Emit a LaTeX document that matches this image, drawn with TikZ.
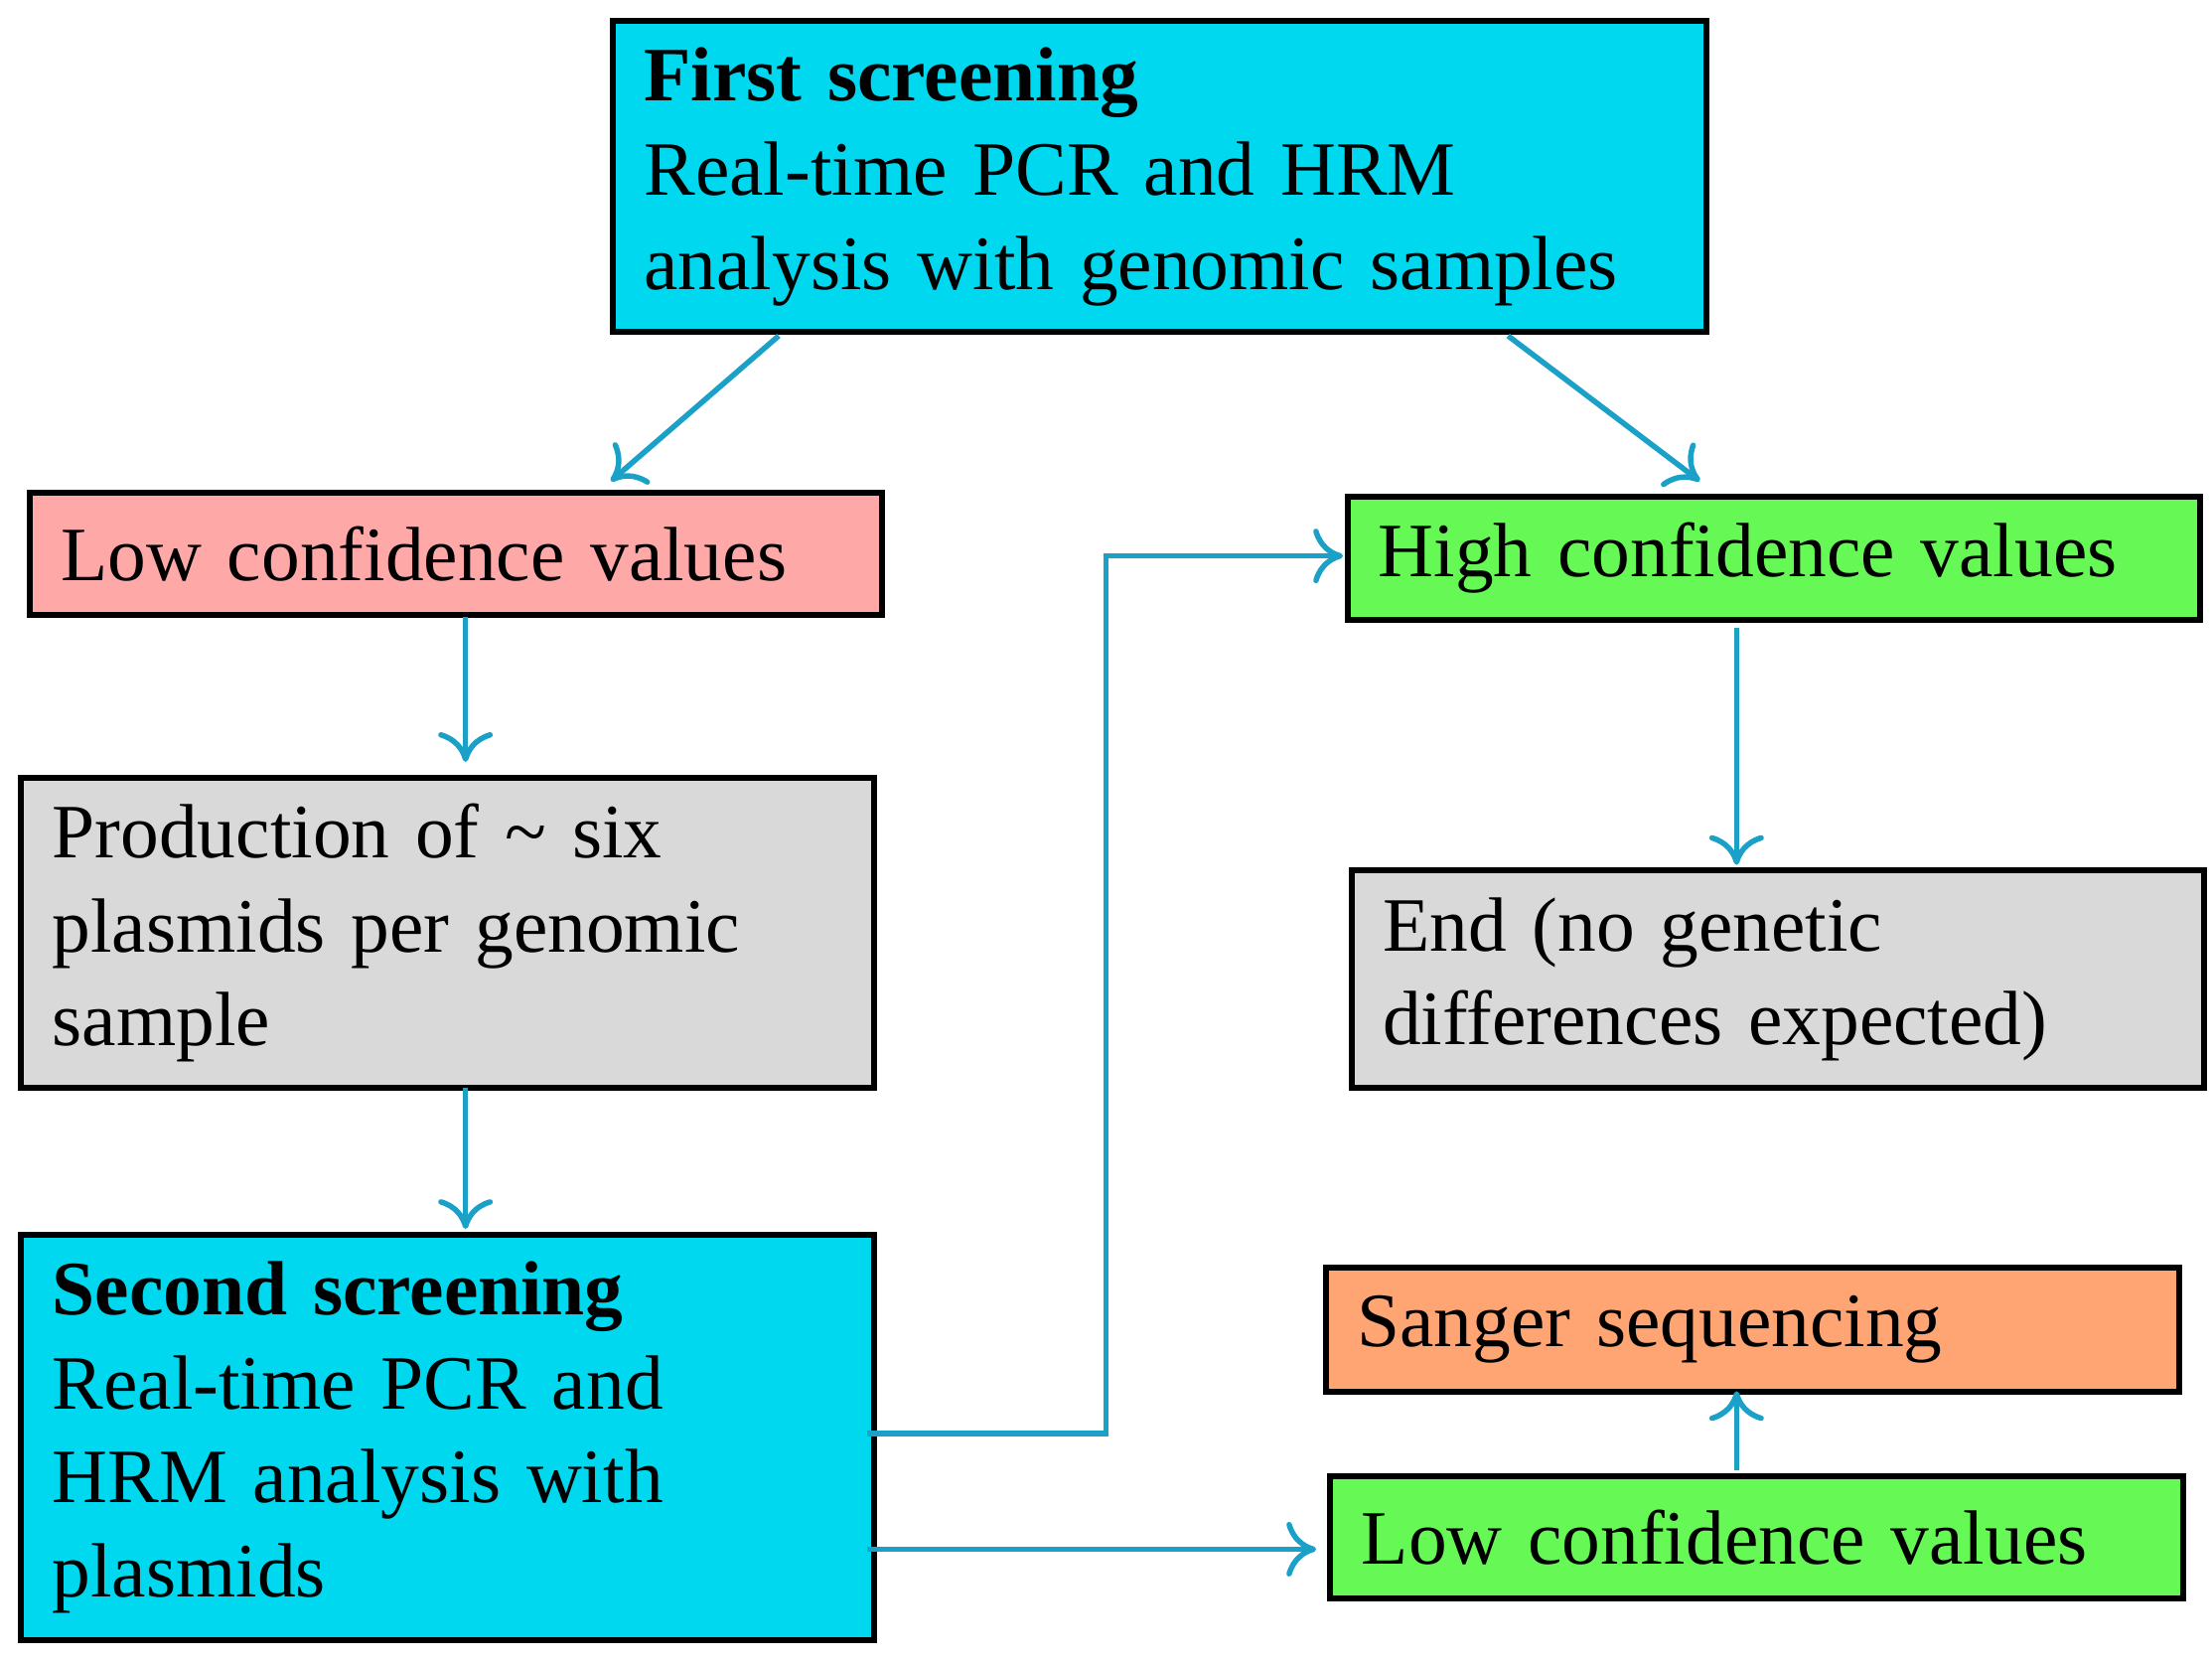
\documentclass[tikz,border=0pt]{standalone}
\usepackage{fontspec}
\setmainfont{Liberation Serif}
\usetikzlibrary{arrows.meta}
\definecolor{cy}{HTML}{00D8F0}
\definecolor{pk}{HTML}{FFA8A8}
\definecolor{gr}{HTML}{66F855}
\definecolor{gy}{HTML}{D9D9D9}
\definecolor{og}{HTML}{FFA573}
\definecolor{ar}{HTML}{1BA1C8}
\begin{document}
\begin{tikzpicture}[x=0.01cm,y=-0.01cm,
 box/.style={draw=black,line width=1.2pt,anchor=north west,align=left,inner xsep=0.22cm,
   font=\fontsize{15.5}{19}\selectfont},
 con/.style={draw=ar,line width=1.1pt,-{To[length=6pt,width=11pt]}}]
\useasboundingbox (0,0) rectangle (1568,1178);
\node[box,fill=cy,minimum width=7.75cm,minimum height=2.2cm,text width=7.3cm] (top) at (432,13)
 {\textbf{First screening}\\Real-time PCR and HRM\\analysis with genomic samples};
\node[box,fill=pk,minimum width=6.03cm,minimum height=0.87cm,text width=5.6cm] (low1) at (19,347) {Low confidence values};
\node[box,fill=gr,minimum width=6.03cm,minimum height=0.87cm,text width=5.6cm] (high) at (953,350) {High confidence values};
\node[box,fill=gy,minimum width=6.02cm,minimum height=2.2cm,text width=5.6cm] (prod) at (13,549) {Production of \textasciitilde{} six\\plasmids per genomic\\sample};
\node[box,fill=gy,minimum width=6.02cm,minimum height=1.54cm,text width=5.6cm] (end) at (956,615) {End (no genetic\\differences expected)};
\node[box,fill=cy,minimum width=6.02cm,minimum height=2.87cm,text width=5.6cm] (second) at (13,873) {\textbf{Second screening}\\Real-time PCR and\\HRM analysis with\\plasmids};
\node[box,fill=og,minimum width=6.02cm,minimum height=0.88cm,text width=5.6cm] (sanger) at (938,896) {Sanger sequencing};
\node[box,fill=gr,minimum width=6.02cm,minimum height=0.87cm,text width=5.6cm] (low2) at (941,1044) {Low confidence values};
\coordinate (a1) at (552,238); \coordinate (a2) at (433,341);
\coordinate (b1) at (1069,238); \coordinate (b2) at (1205,341);
\coordinate (c1) at (330,437); \coordinate (c2) at (330,540);
\coordinate (d1) at (1231,445); \coordinate (d2) at (1231,613);
\coordinate (e1) at (330,771); \coordinate (e2) at (330,871);
\coordinate (f1) at (615,1016); \coordinate (f2) at (952,394);
\coordinate (g1) at (615,1098); \coordinate (g2) at (933,1098);
\coordinate (h1) at (1231,1042); \coordinate (h2) at (1231,986);
\draw[con] (a1) -- (a2);
\draw[con] (b1) -- (b2);
\draw[con] (c1) -- (c2);
\draw[con] (d1) -- (d2);
\draw[con] (e1) -- (e2);
\draw[con] (f1) -- (784,1016) -- (784,394) -- (f2);
\draw[con] (g1) -- (g2);
\draw[con] (h1) -- (h2);
\end{tikzpicture}
\end{document}
